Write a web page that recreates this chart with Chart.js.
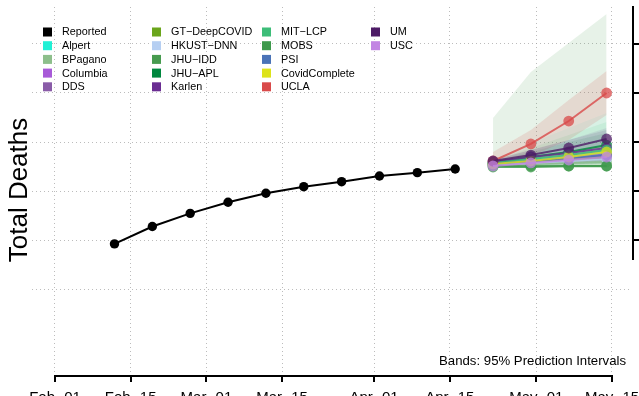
<!DOCTYPE html>
<html><head><meta charset="utf-8">
<script src="https://cdn.jsdelivr.net/npm/chart.js@4.4.1/dist/chart.umd.min.js"></script>
<style>html,body{margin:0;padding:0;background:#fff}#wrap{width:639px;height:396px;overflow:hidden}canvas{display:block}</style>
</head><body><div id="wrap"><canvas id="c" width="639" height="396"></canvas></div>
<script>
// ---------------- data ----------------
const reportedDates = ['2022-02-12','2022-02-19','2022-02-26','2022-03-05','2022-03-12','2022-03-19','2022-03-26','2022-04-02','2022-04-09','2022-04-16'];
const reportedDeaths = [896000, 913800, 927200, 938500, 947700, 954400, 959500, 965300, 968700, 972400];
const forecastDates = ['2022-04-23','2022-04-30','2022-05-07','2022-05-14'];
const models = ['Alpert','BPagano','Columbia','DDS','GT\u2212DeepCOVID','HKUST\u2212DNN','JHU\u2212IDD','JHU\u2212APL','Karlen','MIT\u2212LCP','MOBS','PSI','CovidComplete','UCLA','UM','USC'];
const modelColors = ['#21f0d5','#8dbf8b','#a85ad8','#8a5ca8','#6aa51b','#b6cff2','#479b4f','#00873e','#6a2d92','#3dbd78','#3e994c','#4a73b7','#dde31a','#d94a4a','#4d1b66','#c285e3'];
const pointForecasts = [
  [977600, 981600, 984700, 988800],
  [976500, 977600, 978600, 979600],
  [977600, 980600, 984700, 987800],
  [977600, 979600, 982700, 985700],
  [976500, 979600, 981600, 984700],
  [976500, 978600, 980600, 982700],
  [975500, 975500, 975500, 975500],
  [978600, 984700, 989800, 996900],
  [979600, 984700, 988800, 993900],
  [978600, 982700, 986700, 991800],
  [974500, 974500, 975500, 975500],
  [977600, 980600, 983700, 986700],
  [977600, 980600, 984700, 989800],
  [980600, 998000, 1021400, 1050000],
  [980600, 986700, 993900, 1003100],
  [975500, 978600, 981600, 984700]
];
const lowerBounds = [
  [975500, 975500, 976500, 977600],
  [974500, 974500, 974500, 974500],
  [975500, 976500, 978600, 980600],
  [975500, 976500, 977600, 978600],
  [974500, 975500, 976500, 977600],
  [974500, 975500, 976500, 977600],
  [973500, 973500, 973500, 973500],
  [976500, 979600, 981600, 984700],
  [976500, 978600, 980600, 981600],
  [975500, 976500, 977600, 978600],
  [973500, 973500, 973500, 973500],
  [975500, 976500, 977600, 978600],
  [976500, 977600, 979600, 981600],
  [975500, 985700, 1002000, 1027600],
  [978600, 982700, 987800, 994900],
  [974500, 976500, 978600, 980600]
];
const upperBounds = [
  [981600, 999000, 1014300, 1029600],
  [978600, 981600, 984700, 987800],
  [979600, 984700, 990800, 995900],
  [979600, 983700, 987800, 992900],
  [979600, 985700, 990800, 996900],
  [978600, 982700, 985700, 988800],
  [1024500, 1071400, 1101000, 1130600],
  [980600, 989800, 1000000, 1009200],
  [981600, 991800, 1002000, 1014300],
  [980600, 993900, 1007100, 1020400],
  [976500, 978600, 980600, 982700],
  [979600, 985700, 990800, 995900],
  [978600, 983700, 989800, 996900],
  [989800, 1012200, 1042900, 1072400],
  [981600, 991800, 1002000, 1012200],
  [976500, 980600, 984700, 988800]
];
const xTickDates = ['2022-02-01','2022-02-15','2022-03-01','2022-03-15','2022-04-01','2022-04-15','2022-05-01','2022-05-15'];
const xTickLabels = ['Feb 01','Feb 15','Mar 01','Mar 15','Apr 01','Apr 15','May 01','May 15'];
const yGridValues = [850000, 900000, 950000, 1000000, 1050000, 1100000];
const yAxisTitle = 'Total Deaths';
const bandNote = 'Bands: 95% Prediction Intervals';

// ---------------- helpers ----------------
const origin = Date.UTC(2022, 1, 1);
const dayOf = s => { const [a,b,c] = s.split('-').map(Number); return (Date.UTC(a,b-1,c) - origin) / 86400000; };
const xTickDays = xTickDates.map(dayOf);
function rgba(hex, a){ const n=parseInt(hex.slice(1),16); return `rgba(${n>>16&255},${n>>8&255},${n&255},${a})`; }
const FONT = '"Liberation Sans", Arial, Helvetica, sans-serif';

const datasets = [];
const N = models.length;
models.forEach((m, i) => {
  const col = modelColors[i];
  const a = m === 'JHU\u2212IDD' ? 0.13 : (m === 'UCLA' ? 0.15 : (m === 'Alpert' ? 0.08 : 0.11));
  datasets.push({ label: m+' lo', data: forecastDates.map((d,k)=>({x:dayOf(d), y:lowerBounds[i][k]})),
    borderWidth:0, pointRadius:0, fill:false, order: 1000 + (N-i)*2 });
  datasets.push({ label: m+' hi', data: forecastDates.map((d,k)=>({x:dayOf(d), y:upperBounds[i][k]})),
    borderWidth:0, pointRadius:0, fill:'-1', backgroundColor: rgba(col, a), order: 1000 + (N-i)*2 - 1 });
});
models.forEach((m, i) => {
  const col = modelColors[i];
  datasets.push({ label: m, data: forecastDates.map((d,k)=>({x:dayOf(d), y:pointForecasts[i][k]})),
    borderColor: rgba(col, 0.8), backgroundColor: rgba(col, 0.75), borderWidth: 2,
    pointRadius: 5.4, pointBorderWidth: 0, fill:false, order: 1 + (N-i) });
});
datasets.push({ label:'Reported', data: reportedDates.map((d,k)=>({x:dayOf(d), y:reportedDeaths[k]})),
  borderColor:'#000', backgroundColor:'#000', borderWidth:2, pointRadius:4.7, pointBorderWidth:0, fill:false, order:0 });

const legendItems = [['Reported','#000000']].concat(models.map((m,i)=>[m, modelColors[i]]));

const decor = {
  id: 'decor',
  afterDraw(chart){
    const {ctx, chartArea:ca, scales:{x, y}} = chart;
    ctx.save();
    // x axis
    ctx.strokeStyle = '#000'; ctx.lineWidth = 2; ctx.lineCap = 'butt';
    const axY = ca.bottom + 3;
    const xa = x.getPixelForValue(xTickDays[0]), xb = x.getPixelForValue(xTickDays[xTickDays.length-1]);
    ctx.beginPath(); ctx.moveTo(xa-1, axY); ctx.lineTo(xb+1, axY); ctx.stroke();
    ctx.beginPath();
    xTickDays.forEach(d => { const px = Math.round(x.getPixelForValue(d)); ctx.moveTo(px, axY); ctx.lineTo(px, axY+6); });
    ctx.stroke();
    ctx.fillStyle = '#000';
    ctx.font = `15px ${FONT}`; ctx.textAlign = 'center'; ctx.textBaseline = 'alphabetic';
    try { ctx.wordSpacing = '5px'; } catch(e) {}
    xTickDays.forEach((d, k) => ctx.fillText(xTickLabels[k], x.getPixelForValue(d), axY + 26));
    try { ctx.wordSpacing = '0px'; } catch(e) {}
    // right axis
    const rx = ca.right + 3;
    const rTop = ca.top - 1, rBot = y.getPixelForValue(879600);
    ctx.beginPath(); ctx.moveTo(rx, rTop); ctx.lineTo(rx, rBot); ctx.stroke();
    ctx.beginPath();
    yGridValues.forEach(v => { const py = Math.round(y.getPixelForValue(v)); if (py >= rTop && py <= rBot) { ctx.moveTo(rx, py); ctx.lineTo(rx+7, py); } });
    ctx.stroke();
    // y title
    ctx.save();
    ctx.translate(27, (ca.top + ca.bottom)/2);
    ctx.rotate(-Math.PI/2);
    ctx.font = `26px ${FONT}`; ctx.textAlign = 'center'; ctx.textBaseline = 'alphabetic';
    ctx.fillText(yAxisTitle, 0, 0);
    ctx.restore();
    // band note
    ctx.font = `13.2px ${FONT}`; ctx.textAlign = 'right'; ctx.textBaseline = 'alphabetic';
    ctx.fillText(bandNote, 626, 365);
    // legend
    const colX = [43, 152, 262, 371];
    const rowY = [32, 45.7, 59.4, 73.1, 86.8];
    ctx.font = `10.8px ${FONT}`; ctx.textAlign = 'left'; ctx.textBaseline = 'middle';
    legendItems.forEach(([name, col], k) => {
      const c = Math.floor(k/5), r = k % 5;
      ctx.fillStyle = col;
      ctx.fillRect(colX[c], rowY[r]-4.5, 9, 9);
      ctx.fillStyle = '#000';
      ctx.fillText(name, colX[c] + 19, rowY[r] + 0.5);
    });
    ctx.restore();
  }
};

const gridColor = 'rgba(160,160,160,0.7)';
new Chart(document.getElementById('c'), {
  type: 'line',
  data: { datasets },
  options: {
    responsive: false, animation: false, devicePixelRatio: 1,
    layout: { padding: { left: 32, top: 7, right: 9, bottom: 23 } },
    elements: { line: { tension: 0 } },
    plugins: { legend: { display: false }, tooltip: { enabled: false }, filler: { propagate: false } },
    scales: {
      x: { type: 'linear', min: -4.253, max: 106.329,
        afterBuildTicks: s => { s.ticks = xTickDays.map(v => ({ value: v })); },
        ticks: { display: false }, grid: { color: gridColor, lineWidth: 1, drawTicks: false, tickLength: 0 },
        border: { display: false, dash: [1, 3] } },
      y: { type: 'linear', min: 764286, max: 1137755,
        afterBuildTicks: s => { s.ticks = yGridValues.map(v => ({ value: v })); },
        ticks: { display: false }, grid: { color: gridColor, lineWidth: 1, drawTicks: false, tickLength: 0 },
        border: { display: false, dash: [1, 3] } }
    }
  },
  plugins: [decor]
});
</script></body></html>
